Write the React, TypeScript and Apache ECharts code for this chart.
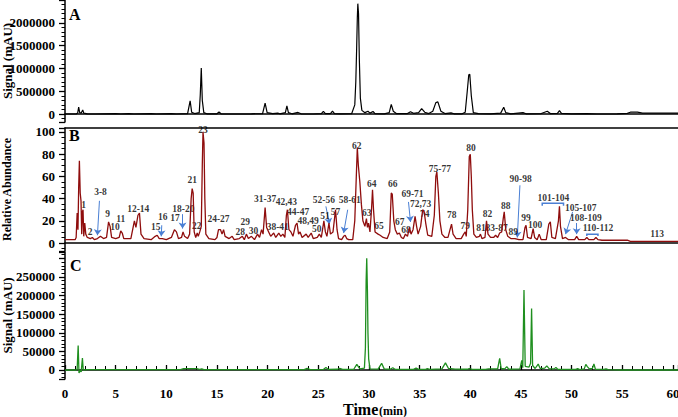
import { useEffect, useRef } from 'react';
import * as echarts from 'echarts';

// Panel A: UV signal (time min, mAU)
const panelA: number[][] = [
  [0, 0], [1.1, 0], [1.25, 20000], [1.35, 150000], [1.45, 30000], [1.6, 20000], [1.75, 90000], [1.85, 20000],
  [2.2, 5000], [3, 0], [5, 8000], [5.5, 0], [6.3, 10000], [6.8, 0], [8.5, 8000], [9, 0], [10.5, 8000], [11, 0],
  [12.1, 10000], [12.35, 290000], [12.5, 40000], [12.8, 10000], [13.25, 30000], [13.35, 420000], [13.45, 1010000],
  [13.55, 300000], [13.7, 30000], [14, 5000], [15.0, 5000], [15.2, 45000], [15.4, 5000], [16, 0], [18.4, 5000],
  [19.5, 10000], [19.75, 240000], [19.95, 30000], [20.5, 10000], [21.0, 20000], [21.2, 5000], [21.75, 30000],
  [21.9, 180000], [22.05, 30000], [22.4, 5000], [23.0, 35000], [23.3, 5000], [24.5, 0], [25.3, 10000], [25.5, 60000],
  [25.7, 10000], [26.2, 10000], [26.4, 65000], [26.6, 10000], [27.2, 5000], [28.3, 10000], [28.6, 200000],
  [28.7, 700000], [28.78, 1400000], [28.85, 2100000], [28.9, 2420000], [28.97, 2200000], [29.05, 1200000],
  [29.15, 350000], [29.3, 80000], [29.6, 30000], [29.9, 60000], [30.1, 20000], [30.4, 55000], [30.6, 10000],
  [31.5, 5000], [32.0, 30000], [32.2, 210000], [32.4, 60000], [32.7, 10000], [33.8, 10000], [34.1, 50000],
  [34.4, 15000], [34.9, 30000], [35.2, 120000], [35.5, 40000], [35.9, 10000], [36.3, 60000], [36.6, 250000],
  [36.8, 265000], [37.1, 60000], [37.5, 10000], [38.1, 25000], [38.4, 5000], [39.2, 5000], [39.5, 40000],
  [39.7, 500000], [39.85, 860000], [39.95, 870000], [40.1, 400000], [40.3, 30000], [40.8, 10000], [42.0, 5000],
  [43.0, 20000], [43.3, 150000], [43.5, 30000], [44, 5000], [45.2, 30000], [45.5, 5000], [47.0, 10000],
  [47.6, 60000], [47.9, 10000], [48.6, 15000], [48.8, 75000], [49.0, 15000], [50, 5000], [51.5, 10000],
  [52.5, 0], [54.5, 5000], [55.5, 15000], [55.8, 40000], [56.5, 40000], [57, 20000], [60.5, 20000]
];

// Panel B: relative abundance
const panelB: number[][] = [
  [0, 3], [1.0, 3], [1.1, 5], [1.2, 27], [1.28, 12], [1.35, 50], [1.42, 74], [1.5, 45], [1.58, 38], [1.65, 8],
  [1.72, 28], [1.78, 30], [1.85, 6], [1.95, 18], [2.05, 8], [2.2, 5], [2.5, 4], [2.7, 5], [2.9, 3], [3.2, 4],
  [3.5, 6], [3.8, 4], [4.1, 5], [4.3, 19], [4.45, 15], [4.6, 5], [5.0, 4], [5.35, 5], [5.5, 11], [5.65, 9],
  [5.8, 4], [6.5, 4], [6.85, 20], [7.0, 14], [7.2, 25], [7.35, 27], [7.5, 8], [7.8, 4], [8.5, 3], [8.9, 6],
  [9.1, 7], [9.3, 4], [9.6, 4], [10.0, 3], [10.5, 5], [10.8, 12], [11.0, 10], [11.2, 4], [11.5, 5], [11.65, 10],
  [11.8, 6], [12.1, 4], [12.3, 8], [12.45, 40], [12.55, 49], [12.65, 45], [12.75, 10], [12.9, 5], [13.05, 9],
  [13.15, 6], [13.3, 10], [13.45, 15], [13.55, 70], [13.62, 100], [13.72, 90], [13.8, 40], [13.9, 8], [14.2, 4],
  [14.8, 3], [15.0, 5], [15.15, 12], [15.35, 12], [15.5, 8], [15.65, 12], [15.8, 6], [16.2, 4], [16.5, 6],
  [16.7, 3], [17.2, 4], [17.5, 6], [17.7, 3], [17.9, 8], [18.1, 4], [18.4, 6], [18.7, 3], [19.0, 8], [19.2, 5],
  [19.4, 12], [19.55, 8], [19.75, 32], [19.9, 14], [20.1, 10], [20.3, 6], [20.6, 9], [20.8, 5], [21.1, 9],
  [21.3, 6], [21.5, 8], [21.7, 5], [21.85, 25], [21.95, 30], [22.1, 12], [22.3, 10], [22.5, 6], [22.75, 16],
  [22.9, 18], [23.05, 8], [23.2, 10], [23.4, 5], [23.8, 8], [24.0, 5], [24.3, 9], [24.5, 4], [24.9, 5],
  [25.1, 8], [25.3, 5], [25.55, 20], [25.7, 10], [25.85, 6], [26.05, 18], [26.2, 8], [26.45, 10], [26.7, 30],
  [26.85, 12], [27.0, 4], [27.3, 3], [27.5, 6], [27.65, 7], [27.8, 4], [28.0, 3], [28.4, 3], [28.6, 20],
  [28.75, 60], [28.85, 86], [28.95, 70], [29.1, 55], [29.25, 35], [29.4, 20], [29.6, 15], [29.75, 22],
  [29.85, 14], [29.95, 18], [30.1, 10], [30.25, 30], [30.35, 48], [30.45, 30], [30.6, 10], [30.9, 8], [31.1, 7],
  [31.4, 5], [31.8, 4], [32.05, 10], [32.2, 45], [32.3, 44], [32.45, 20], [32.6, 12], [32.8, 8], [33.0, 9],
  [33.2, 5], [33.4, 4], [33.6, 8], [33.8, 6], [34.0, 14], [34.15, 8], [34.35, 12], [34.55, 24], [34.7, 15],
  [34.85, 8], [35.1, 15], [35.3, 30], [35.45, 28], [35.6, 18], [35.8, 7], [36.2, 6], [36.45, 25], [36.6, 60],
  [36.7, 64], [36.85, 45], [37.0, 20], [37.2, 8], [37.5, 5], [37.8, 5], [38.0, 12], [38.15, 17], [38.3, 8],
  [38.6, 4], [39.1, 4], [39.35, 8], [39.5, 10], [39.6, 6], [39.75, 30], [39.9, 78], [40.0, 80], [40.1, 60],
  [40.2, 30], [40.35, 8], [40.6, 5], [40.9, 6], [41.0, 8], [41.15, 4], [41.45, 5], [41.6, 20], [41.75, 8],
  [42.0, 5], [42.3, 5], [42.5, 7], [42.7, 5], [42.9, 9], [43.1, 10], [43.25, 22], [43.35, 28], [43.5, 12],
  [43.7, 6], [44.0, 4], [44.4, 4], [44.8, 3], [45.2, 3], [45.4, 14], [45.5, 16], [45.65, 5], [46.0, 4],
  [46.2, 13], [46.35, 5], [46.6, 3], [46.8, 8], [47.0, 3], [47.5, 3], [47.75, 17], [47.9, 19], [48.05, 5],
  [48.4, 4], [48.7, 20], [48.8, 33], [48.9, 15], [49.1, 4], [49.4, 5], [49.7, 3], [50.3, 3], [50.5, 6],
  [50.7, 3], [51.3, 3], [51.5, 5], [51.7, 3], [52.2, 3], [52.4, 5], [52.6, 3], [53, 2.5], [55.5, 2.5],
  [55.8, 1.5], [60.5, 1.5]
];

// Panel C: UV signal, second trace
const panelC: number[][] = [
  [0, 0], [1.1, 0], [1.2, 3000], [1.3, 66000], [1.38, -8000], [1.5, -2000], [1.6, -5000], [1.72, 32000],
  [1.8, 0], [2.2, 1000], [11.4, 1000], [11.7, 3500], [13.0, 3500], [13.3, 1500], [13.5, 3000], [13.7, 1000],
  [23.6, 1000], [23.9, 4500], [24.2, 1000], [25.5, 1500], [25.75, 6500], [26.0, 1500], [26.9, 2000], [27.1, 4500],
  [27.4, 1500], [28.5, 2000], [28.8, 15000], [29.1, 3000], [29.55, 5000], [29.65, 60000], [29.72, 240000],
  [29.78, 300000], [29.85, 210000], [29.9, 100000], [29.97, 30000], [30.1, 3000], [30.9, 2500], [31.25, 18000],
  [31.5, 3000], [32.1, 2000], [32.35, 6000], [32.6, 1500], [34.4, 1500], [34.65, 5000], [34.9, 1500],
  [35.6, 1500], [35.75, 4000], [36.0, 1500], [37.2, 3000], [37.55, 19000], [37.85, 4000], [38.5, 2500],
  [39.7, 2000], [39.9, 4000], [40.2, 1500], [41.5, 1500], [41.8, 3000], [42.7, 3000], [42.9, 31000],
  [43.05, 4000], [43.4, 3000], [43.6, 9000], [43.8, 2000], [44.9, 3000], [45.08, 26000], [45.18, 6000],
  [45.3, 215000], [45.42, 10000], [45.8, 8000], [45.95, 18000], [46.05, 165000], [46.15, 12000], [46.4, 4000],
  [46.7, 16000], [46.9, 4000], [47.35, 5000], [47.55, 11000], [47.8, 3000], [48.3, 3000], [48.45, 7000],
  [48.65, 1500], [50.4, 1500], [50.6, 3500], [50.8, 1000], [51.25, 3000], [51.4, 15000], [51.55, 9000],
  [51.75, 3000], [52.05, 4000], [52.2, 16000], [52.35, 2000], [53.2, 1500], [53.4, 3000], [53.6, 1000],
  [55, 0], [60.5, 0]
];

// Peak annotations in panel B: [time, level, text]
const peakLabels: [number, number, string][] = [
  [1.85, 34, '1'], [2.47, 10, '2'], [3.5, 46, '3-8'], [4.2, 26, '9'], [4.93, 14, '10'], [5.5, 22, '11'],
  [7.23, 31, '12-14'], [8.95, 14, '15'], [9.65, 23, '16'], [10.86, 22.5, '17'], [11.68, 31, '18-20'],
  [12.57, 57, '21'], [13.0, 15, '22'], [13.62, 101.5, '23'], [15.15, 22, '24-27'], [17.3, 10, '28'],
  [17.8, 19, '29'], [18.6, 10.5, '30'], [19.75, 39.6, '31-37'], [21.0, 14.7, '38-41'], [21.85, 37, '42,43'],
  [23.0, 27.8, '44-47'], [24.0, 19.8, '48,49'], [24.85, 12.8, '50'], [25.65, 24, '51'], [25.55, 38.3, '52-56'],
  [26.7, 27.6, '57'], [28.1, 38.7, '58-61'], [28.8, 87.5, '62'], [29.77, 27.3, '63'], [30.27, 53, '64'],
  [31.0, 15.3, '65'], [32.34, 53, '66'], [33.05, 18.6, '67'], [33.65, 11.3, '68'], [34.3, 44.5, '69-71'],
  [35.1, 35.5, '72,73'], [35.5, 26.5, '74'], [37.0, 66.7, '75-77'], [38.16, 25.2, '78'], [39.5, 15.6, '79'],
  [40.07, 86, '80'], [41.05, 13.2, '81'], [41.7, 26.1, '82'], [42.6, 13.8, '83-87'], [43.5, 33.3, '88'],
  [44.24, 10.2, '89'], [44.97, 57.4, '90-98'], [45.5, 22.2, '99'], [46.4, 16.2, '100'], [48.2, 40.8, '101-104'],
  [50.9, 31.2, '105-107'], [51.4, 22.2, '108-109'], [52.6, 13.2, '110-112'], [58.45, 8.1, '113']
];

// Arrows from labels to peaks: [[fromTime, fromLevel], [toTime, toLevel]]
const arrows: number[][][] = [
  [[3.4, 38], [3.2, 7]],
  [[9.55, 16], [9.5, 6]],
  [[11.6, 26], [11.6, 13]],
  [[25.75, 33], [26.1, 17]],
  [[27.9, 30], [27.5, 9]],
  [[33.9, 37], [34.1, 19]],
  [[44.9, 52], [44.64, 5]],
  [[50.1, 28], [49.4, 8]],
  [[50.5, 18], [50.5, 8]]
];

// Brackets grouping peaks
const brackets: number[][][] = [
  [[47.1, 33.5], [47.1, 35.8], [49.2, 35.8], [49.2, 33.5]],
  [[51.5, 6.2], [51.5, 8], [52.6, 8], [52.6, 6.2]]
];

const FONT = 'Liberation Serif, Times New Roman, serif';

export default function App() {
  const ref = useRef<HTMLDivElement>(null);
  useEffect(() => {
    document.body.style.margin = '0';
    const chart = echarts.init(ref.current!, undefined, { renderer: 'svg' });
    const axisLine = { show: true, lineStyle: { color: '#000', width: 1.5 } };
    const plainX = (grid: number, position: string) => ({
      type: 'value', gridIndex: grid, position, min: 0, max: 60.5,
      axisLine, axisTick: { show: false }, axisLabel: { show: false }, splitLine: { show: false }
    });
    const labelStyle = { fontFamily: FONT, fontWeight: 'bold', fontSize: 13, color: '#000' };
    const yAxisBase = (grid: number, min: number, max: number, limit: number, name: string, nameSize: number, minorSplit: number, gap: number) => ({
      type: 'value', gridIndex: grid, min, max, splitNumber: 5,
      axisLine, splitLine: { show: false },
      axisTick: { show: true, inside: false, length: 6, lineStyle: { color: '#000', width: 1.3 } },
      minorTick: { show: true, splitNumber: minorSplit, length: 3.5, lineStyle: { color: '#000', width: 1 } },
      axisLabel: {
        ...labelStyle, margin: 10,
        formatter: (v: number) => (v < 0 || v > limit ? '' : String(v))
      },
      name, nameLocation: 'middle', nameRotate: 90, nameGap: gap, nameMoveOverlap: false,
      nameTextStyle: { fontFamily: FONT, fontWeight: 'bold', fontSize: nameSize, color: '#000' }
    });
    chart.setOption({
      animation: false,
      grid: [
        { left: 65, right: 0, top: 0, height: 122, outerBoundsMode: 'none', containLabel: false },
        { left: 65, right: 0, top: 128, height: 123, outerBoundsMode: 'none', containLabel: false },
        { left: 65, right: 0, top: 252, height: 127, outerBoundsMode: 'none', containLabel: false }
      ],
      xAxis: [
        plainX(0, 'bottom'),
        plainX(1, 'bottom'),
        plainX(1, 'top'),
        {
          type: 'value', gridIndex: 2, position: 'bottom', min: 0, max: 60.5, interval: 5,
          axisLine, splitLine: { show: false },
          axisTick: { show: true, inside: true, length: 5, lineStyle: { color: '#000', width: 1.3 } },
          minorTick: { show: true, splitNumber: 5, length: 4, lineStyle: { color: '#000', width: 1 } },
          axisLabel: { ...labelStyle, margin: 8, showMaxLabel: false, formatter: (v: number) => (v > 60 ? '' : String(v)) }
        }
      ],
      yAxis: [
        yAxisBase(0, -175000, 2500000, 2000000, 'Signal (mAU)', 13, 5, 51),
        yAxisBase(1, -7.2, 103.6, 100, 'Relative Abundance', 12, 4, 52),
        yAxisBase(2, -24200, 317000, 250000, 'Signal (mAU)', 13, 5, 51)
      ],
      series: [
        { type: 'line', xAxisIndex: 0, yAxisIndex: 0, data: panelA, showSymbol: false, silent: true,
          lineStyle: { color: '#000', width: 1.2 } },
        { type: 'line', xAxisIndex: 1, yAxisIndex: 1, data: panelB, showSymbol: false, silent: true,
          lineStyle: { color: '#8f0d0d', width: 1.3 } },
        { type: 'line', xAxisIndex: 3, yAxisIndex: 2, data: panelC, showSymbol: false, silent: true,
          lineStyle: { color: '#1f8f1f', width: 1.3 } },
        {
          type: 'scatter', xAxisIndex: 1, yAxisIndex: 1, symbolSize: 1, silent: true,
          itemStyle: { color: 'rgba(0,0,0,0)' },
          data: peakLabels.map(([t, v, s]) => ({ name: s, value: [t, v] })),
          label: { show: true, position: 'inside', formatter: '{b}', fontFamily: FONT, fontWeight: 'bold', fontSize: 9.5, color: '#000' }
        },
        {
          type: 'lines', coordinateSystem: 'cartesian2d', xAxisIndex: 1, yAxisIndex: 1, silent: true,
          symbol: ['none', 'arrow'], symbolSize: 6,
          lineStyle: { color: '#4a7fd4', width: 1, opacity: 1 },
          data: arrows.map((c) => ({ coords: c }))
        },
        {
          type: 'lines', coordinateSystem: 'cartesian2d', xAxisIndex: 1, yAxisIndex: 1, silent: true, polyline: true,
          symbol: 'none', lineStyle: { color: '#4a7fd4', width: 1.5, opacity: 1 },
          data: brackets.map((c) => ({ coords: c }))
        }
      ],
      graphic: [
        { type: 'text', left: 69, top: 6, style: { text: 'A', fontFamily: FONT, fontWeight: 'bold', fontSize: 16, fill: '#000' } },
        { type: 'text', left: 69, top: 127, style: { text: 'B', fontFamily: FONT, fontWeight: 'bold', fontSize: 16, fill: '#000' } },
        { type: 'text', left: 70, top: 257, style: { text: 'C', fontFamily: FONT, fontWeight: 'bold', fontSize: 16, fill: '#000' } },
        { type: 'text', left: 343, top: 401, style: { text: 'Time', fontFamily: FONT, fontWeight: 'bold', fontSize: 16, fill: '#000' } },
        { type: 'text', left: 379, top: 405, style: { text: '(min)', fontFamily: FONT, fontWeight: 'bold', fontSize: 12, fill: '#000' } }
      ]
    });
    return () => chart.dispose();
  }, []);
  return <div ref={ref} style={{ position: 'absolute', left: 0, top: 0, width: 678, height: 417 }} />;
}
